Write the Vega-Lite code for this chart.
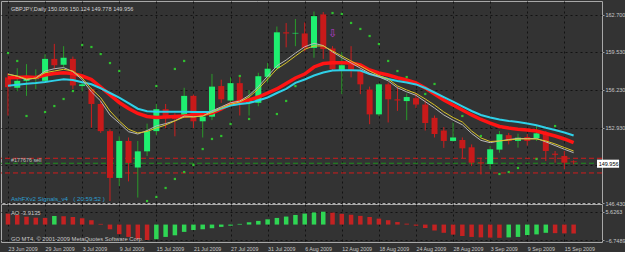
{
  "$schema": "https://vega.github.io/schema/vega-lite/v6.json",
  "padding": 0,
  "background": "#333333",
  "spacing": 1,
  "bounds": "flush",
  "config": {
    "view": {"stroke": "#a8a8a8", "strokeWidth": 1, "fill": "#333333"},
    "font": "Liberation Sans"
  },
  "resolve": {"scale": {"x": "independent", "y": "independent"}},
  "datasets": {
    "bars": [
      {"i":0,"o":157.30,"h":157.65,"l":154.00,"c":156.45,"cy":156.57,"rd":157.27,"ye":157.55,"gr":157.60,"ao":4.77,"aod":"down"},
      {"i":1,"o":156.40,"h":158.10,"l":156.10,"c":157.00,"cy":156.66,"rd":157.29,"ye":157.42,"gr":157.40,"ao":4.2,"aod":"down"},
      {"i":2,"o":157.00,"h":158.45,"l":155.70,"c":157.20,"cy":156.75,"rd":157.33,"ye":157.16,"gr":157.10,"ao":3.45,"aod":"down"},
      {"i":3,"o":157.15,"h":158.00,"l":156.30,"c":157.25,"cy":156.82,"rd":157.29,"ye":157.22,"gr":157.25,"ao":3.0,"aod":"down"},
      {"i":4,"o":157.00,"h":159.30,"l":156.80,"c":158.90,"cy":156.91,"rd":157.51,"ye":157.71,"gr":157.85,"ao":2.9,"aod":"down"},
      {"i":5,"o":158.90,"h":160.20,"l":158.00,"c":158.35,"cy":157.02,"rd":157.64,"ye":157.85,"gr":158.05,"ao":3.76,"aod":"up"},
      {"i":6,"o":158.40,"h":160.00,"l":158.20,"c":159.00,"cy":157.13,"rd":157.71,"ye":158.00,"gr":158.15,"ao":3.6,"aod":"down"},
      {"i":7,"o":158.90,"h":159.10,"l":156.30,"c":156.60,"cy":157.07,"rd":157.64,"ye":157.85,"gr":157.80,"ao":3.3,"aod":"down"},
      {"i":8,"o":156.55,"h":156.85,"l":156.10,"c":156.70,"cy":156.88,"rd":157.42,"ye":157.25,"gr":157.10,"ao":2.75,"aod":"down"},
      {"i":9,"o":156.30,"h":156.40,"l":152.95,"c":155.00,"cy":156.70,"rd":157.12,"ye":156.30,"gr":156.05,"ao":1.9,"aod":"down"},
      {"i":10,"o":155.00,"h":155.30,"l":152.50,"c":152.65,"cy":156.36,"rd":156.47,"ye":155.54,"gr":155.25,"ao":0.3,"aod":"down"},
      {"i":11,"o":152.65,"h":152.80,"l":146.60,"c":148.60,"cy":155.95,"rd":155.78,"ye":154.39,"gr":154.05,"ao":-2.06,"aod":"down"},
      {"i":12,"o":148.60,"h":152.20,"l":147.90,"c":151.80,"cy":155.54,"rd":155.13,"ye":153.53,"gr":153.35,"ao":-4.2,"aod":"down"},
      {"i":13,"o":151.80,"h":152.10,"l":148.30,"c":149.90,"cy":155.07,"rd":154.61,"ye":152.81,"gr":152.60,"ao":-5.4,"aod":"down"},
      {"i":14,"o":149.50,"h":151.80,"l":146.90,"c":150.90,"cy":154.59,"rd":154.18,"ye":152.49,"gr":152.40,"ao":-6.4,"aod":"down"},
      {"i":15,"o":150.90,"h":153.30,"l":150.50,"c":152.65,"cy":154.37,"rd":153.92,"ye":152.62,"gr":152.70,"ao":-6.7489,"aod":"down"},
      {"i":16,"o":152.65,"h":155.00,"l":152.30,"c":154.55,"cy":154.33,"rd":153.83,"ye":152.92,"gr":153.10,"ao":-6.4,"aod":"up"},
      {"i":17,"o":154.55,"h":155.00,"l":152.90,"c":153.80,"cy":154.32,"rd":153.87,"ye":153.18,"gr":153.30,"ao":-5.4,"aod":"up"},
      {"i":18,"o":154.05,"h":154.20,"l":152.20,"c":153.70,"cy":154.32,"rd":153.92,"ye":153.53,"gr":153.55,"ao":-4.7,"aod":"up"},
      {"i":19,"o":154.00,"h":156.40,"l":153.80,"c":155.70,"cy":154.32,"rd":153.96,"ye":153.87,"gr":153.95,"ao":-3.2,"aod":"up"},
      {"i":20,"o":155.70,"h":155.80,"l":152.90,"c":153.50,"cy":154.31,"rd":154.05,"ye":153.87,"gr":153.90,"ao":-2.4,"aod":"up"},
      {"i":21,"o":153.50,"h":154.00,"l":152.10,"c":153.90,"cy":154.31,"rd":154.11,"ye":153.96,"gr":153.95,"ao":-2.05,"aod":"up"},
      {"i":22,"o":153.90,"h":157.60,"l":153.60,"c":156.50,"cy":154.31,"rd":154.22,"ye":154.25,"gr":154.40,"ao":-1.6,"aod":"up"},
      {"i":23,"o":156.55,"h":157.10,"l":155.10,"c":155.40,"cy":154.60,"rd":154.57,"ye":154.65,"gr":154.75,"ao":-1.0,"aod":"up"},
      {"i":24,"o":155.30,"h":157.30,"l":154.80,"c":156.80,"cy":154.87,"rd":155.00,"ye":154.97,"gr":155.10,"ao":-0.5,"aod":"up"},
      {"i":25,"o":156.80,"h":157.40,"l":154.00,"c":155.10,"cy":155.00,"rd":155.22,"ye":155.17,"gr":155.25,"ao":0.3,"aod":"up"},
      {"i":26,"o":155.10,"h":156.20,"l":154.00,"c":155.30,"cy":155.08,"rd":155.34,"ye":155.60,"gr":155.75,"ao":1.0,"aod":"up"},
      {"i":27,"o":155.10,"h":157.70,"l":154.80,"c":157.40,"cy":155.30,"rd":155.60,"ye":156.30,"gr":156.50,"ao":1.6,"aod":"up"},
      {"i":28,"o":157.35,"h":158.55,"l":156.85,"c":158.05,"cy":155.56,"rd":155.95,"ye":157.16,"gr":157.40,"ao":2.3,"aod":"up"},
      {"i":29,"o":158.10,"h":161.70,"l":157.90,"c":161.20,"cy":155.95,"rd":156.30,"ye":158.03,"gr":158.30,"ao":2.9,"aod":"up"},
      {"i":30,"o":161.20,"h":162.00,"l":159.90,"c":161.10,"cy":156.30,"rd":156.77,"ye":158.55,"gr":158.80,"ao":3.5,"aod":"up"},
      {"i":31,"o":161.10,"h":162.35,"l":160.00,"c":161.15,"cy":156.82,"rd":157.25,"ye":159.15,"gr":159.40,"ao":4.2,"aod":"up"},
      {"i":32,"o":161.10,"h":162.05,"l":159.55,"c":159.85,"cy":157.12,"rd":157.59,"ye":159.73,"gr":159.95,"ao":4.8,"aod":"up"},
      {"i":33,"o":159.85,"h":163.00,"l":159.00,"c":162.60,"cy":157.46,"rd":158.20,"ye":160.02,"gr":160.25,"ao":5.3,"aod":"up"},
      {"i":34,"o":162.75,"h":162.95,"l":158.90,"c":159.75,"cy":157.72,"rd":158.50,"ye":160.02,"gr":160.05,"ao":5.6263,"aod":"up"},
      {"i":35,"o":159.80,"h":160.00,"l":157.85,"c":158.00,"cy":157.90,"rd":158.57,"ye":159.58,"gr":159.50,"ao":5.2,"aod":"down"},
      {"i":36,"o":157.95,"h":159.50,"l":155.85,"c":158.35,"cy":157.92,"rd":158.57,"ye":159.15,"gr":159.00,"ao":4.7,"aod":"down"},
      {"i":37,"o":158.40,"h":160.00,"l":157.30,"c":157.95,"cy":157.92,"rd":158.55,"ye":158.72,"gr":158.55,"ao":4.3,"aod":"down"},
      {"i":38,"o":157.95,"h":158.10,"l":155.85,"c":156.70,"cy":157.90,"rd":158.37,"ye":158.29,"gr":158.10,"ao":3.8,"aod":"down"},
      {"i":39,"o":156.25,"h":156.50,"l":153.25,"c":154.10,"cy":157.59,"rd":157.94,"ye":157.85,"gr":157.65,"ao":3.3,"aod":"down"},
      {"i":40,"o":154.10,"h":156.80,"l":153.95,"c":156.70,"cy":157.38,"rd":157.68,"ye":157.46,"gr":157.35,"ao":2.6,"aod":"down"},
      {"i":41,"o":156.70,"h":156.85,"l":153.40,"c":155.40,"cy":157.16,"rd":157.51,"ye":157.16,"gr":157.00,"ao":1.9,"aod":"down"},
      {"i":42,"o":155.40,"h":156.50,"l":154.40,"c":155.30,"cy":156.99,"rd":157.27,"ye":156.56,"gr":156.40,"ao":1.1,"aod":"down"},
      {"i":43,"o":155.25,"h":155.90,"l":153.60,"c":155.60,"cy":156.86,"rd":157.07,"ye":156.21,"gr":156.05,"ao":0.4,"aod":"down"},
      {"i":44,"o":155.50,"h":155.95,"l":154.65,"c":154.95,"cy":156.69,"rd":156.82,"ye":155.91,"gr":155.75,"ao":-0.5,"aod":"down"},
      {"i":45,"o":154.95,"h":155.30,"l":152.70,"c":153.35,"cy":156.38,"rd":156.38,"ye":155.43,"gr":155.20,"ao":-1.5,"aod":"down"},
      {"i":46,"o":153.80,"h":154.00,"l":152.10,"c":152.40,"cy":155.99,"rd":155.86,"ye":154.91,"gr":154.65,"ao":-2.6,"aod":"down"},
      {"i":47,"o":152.70,"h":153.00,"l":151.20,"c":151.80,"cy":155.60,"rd":155.34,"ye":154.31,"gr":154.05,"ao":-3.6,"aod":"down"},
      {"i":48,"o":151.80,"h":153.40,"l":151.75,"c":152.10,"cy":155.21,"rd":154.91,"ye":153.83,"gr":153.60,"ao":-4.4,"aod":"down"},
      {"i":49,"o":151.88,"h":152.10,"l":150.30,"c":151.16,"cy":154.80,"rd":154.48,"ye":153.44,"gr":153.20,"ao":-5.0,"aod":"down"},
      {"i":50,"o":151.25,"h":151.50,"l":149.63,"c":149.92,"cy":154.39,"rd":154.05,"ye":152.66,"gr":152.45,"ao":-5.4,"aod":"down"},
      {"i":51,"o":149.95,"h":150.35,"l":148.90,"c":149.85,"cy":154.05,"rd":153.66,"ye":152.06,"gr":151.85,"ao":-5.6,"aod":"down"},
      {"i":52,"o":149.80,"h":151.35,"l":149.35,"c":151.08,"cy":153.83,"rd":153.35,"ye":151.75,"gr":151.65,"ao":-5.7,"aod":"down"},
      {"i":53,"o":151.05,"h":152.66,"l":150.78,"c":152.38,"cy":153.66,"rd":153.05,"ye":151.80,"gr":151.80,"ao":-5.8,"aod":"down"},
      {"i":54,"o":152.30,"h":152.50,"l":151.50,"c":151.80,"cy":153.53,"rd":152.92,"ye":151.88,"gr":151.92,"ao":-5.6,"aod":"up"},
      {"i":55,"o":151.80,"h":152.43,"l":151.22,"c":152.08,"cy":153.44,"rd":152.81,"ye":151.97,"gr":152.02,"ao":-5.4,"aod":"up"},
      {"i":56,"o":152.14,"h":152.40,"l":151.40,"c":151.80,"cy":153.30,"rd":152.75,"ye":151.97,"gr":152.00,"ao":-4.6,"aod":"up"},
      {"i":57,"o":152.03,"h":153.10,"l":151.80,"c":152.46,"cy":153.16,"rd":152.66,"ye":151.97,"gr":152.02,"ao":-4.3,"aod":"up"},
      {"i":58,"o":152.46,"h":152.66,"l":150.06,"c":150.93,"cy":152.94,"rd":152.44,"ye":151.80,"gr":151.72,"ao":-3.6,"aod":"up"},
      {"i":59,"o":150.70,"h":150.93,"l":149.92,"c":150.60,"cy":152.75,"rd":152.23,"ye":151.54,"gr":151.40,"ao":-3.75,"aod":"down"},
      {"i":60,"o":150.50,"h":150.93,"l":149.35,"c":149.92,"cy":152.53,"rd":151.97,"ye":151.23,"gr":151.08,"ao":-3.85,"aod":"down"},
      {"i":61,"o":150.036,"h":150.124,"l":149.778,"c":149.956,"cy":152.27,"rd":151.65,"ye":150.93,"gr":150.78,"ao":-3.9135,"aod":"down"}
    ],
    "dots": [
      {"i":0,"p":159.41},{"i":1,"p":158.72},{"i":2,"p":153.96},{"i":4,"p":154.30},{"i":5,"p":154.82},{"i":6,"p":155.43},{"i":7,"p":156.12},
      {"i":8,"p":160.10},{"i":9,"p":159.93},{"i":10,"p":159.32},{"i":11,"p":158.54},{"i":12,"p":157.85},
      {"i":15,"p":146.60},{"i":16,"p":146.95},{"i":16,"p":156.55},{"i":17,"p":147.73},{"i":18,"p":148.51},{"i":18,"p":158.03},
      {"i":19,"p":149.11},{"i":19,"p":158.72},{"i":20,"p":149.72},{"i":21,"p":151.10},{"i":22,"p":151.97},{"i":23,"p":152.23},
      {"i":24,"p":153.27},{"i":25,"p":157.42},{"i":26,"p":153.70},{"i":29,"p":154.13},{"i":30,"p":155.26},{"i":31,"p":156.55},
      {"i":35,"p":162.87},{"i":36,"p":162.79},{"i":37,"p":162.01},{"i":38,"p":161.49},{"i":39,"p":160.88},{"i":40,"p":160.19},
      {"i":41,"p":158.72},{"i":42,"p":157.85},{"i":43,"p":157.33},{"i":45,"p":155.86},{"i":46,"p":156.73},{"i":49,"p":153.96},
      {"i":51,"p":152.23},{"i":53,"p":148.94},{"i":54,"p":149.11},{"i":55,"p":149.46},{"i":57,"p":150.24},{"i":59,"p":153.09}
    ],
    "levels": [
      {"p":150.30,"k":"sell"},
      {"p":149.03,"k":"sell"},
      {"p":149.87,"k":"bid"}
    ],
    "notes": [
      {"i":0.32,"p":163.22,"t":"GBPJPY,Daily  150.036  150.124  149.778  149.956","k":"title"},
      {"i":0.32,"p":150.13,"t":"#177676 sell","k":"sell"},
      {"i":0.32,"p":146.74,"t":"AshFXv2 Signals_v4\u00a0\u00a0\u00a0( 20:59:52 )","k":"ash"},
      {"i":35,"p":161.05,"t":"⇩","k":"arrow"},
      {"i":63.7,"p":149.83,"t":"149.956","k":"bid"}
    ],
    "box": [
      {"i":63.52,"i2":65.9,"lo":149.48,"hi":150.18}
    ],
    "aonotes": [
      {"i":0.32,"v":5.05,"t":"AO -3.9135"},
      {"i":0.32,"v":-6.25,"t":"GO MT4, © 2001-2009 MetaQuotes Software Corp."}
    ]
  },
  "vconcat": [
    {
      "width": 601,
      "height": 202,
      "data": {"name": "bars"},
      "layer": [
        {
          "data": {"name": "levels"},
          "mark": {"type": "rule", "strokeWidth": 1, "strokeDash": [5, 3]},
          "encoding": {
            "y": {"field": "p", "type": "quantitative", "title": null},
            "color": {"condition": {"test": "datum.k == 'bid'", "value": "#1f8f1f"}, "value": "#d01c1c"}
          }
        },
        {
          "mark": {"type": "rule", "strokeWidth": 1, "clip": true},
          "encoding": {
            "x": {"field": "i", "type": "quantitative", "title": null,
              "scale": {"domain": [-0.212, 63.52], "nice": false, "zero": false},
              "axis": {"values": [0,2,4,6,8,10,12,14,16,18,20,22,24,26,28,30,32,34,36,38,40,42,44,46,48,50,52,54,56,58,60,62],
                "labels": false, "ticks": false, "domain": false, "grid": true, "gridColor": "#121212", "gridDash": [2, 3], "gridOpacity": 1,
                "minExtent": 0, "maxExtent": 0, "offset": 0, "labelPadding": 0}},
            "y": {"field": "l", "type": "quantitative", "title": null,
              "scale": {"domain": [146.43, 163.91], "nice": false, "zero": false},
              "axis": {"orient": "right", "values": [146.43,148.03,149.68,151.33,152.93,154.58,156.23,157.88,159.53,161.18,162.7],
                "labelExpr": "datum.value == 149.68 ? '' : format(datum.value, '.3f')",
                "grid": true, "gridColor": "#121212", "gridDash": [2, 3], "gridOpacity": 1,
                "domain": false, "tickSize": 2, "tickColor": "#a0a0a0", "labelPadding": 1,
                "labelColor": "#c8c8c8", "labelFontSize": 5.5, "labelFont": "Liberation Sans", "labelOverlap": false, "labelFlush": false}},
            "y2": {"field": "h"},
            "color": {"condition": {"test": "datum.c >= datum.o", "value": "#2a9a2a"}, "value": "#cc1f1f"}
          }
        },
        {
          "mark": {"type": "bar", "size": 6, "clip": true},
          "encoding": {
            "x": {"field": "i", "type": "quantitative", "title": null},
            "y": {"field": "o", "type": "quantitative", "title": null},
            "y2": {"field": "c"},
            "color": {"condition": {"test": "datum.c >= datum.o", "value": "#1ef070"}, "value": "#c81a1a"}
          }
        },
        {
          "mark": {"type": "line", "clip": true, "color": "#ff1414", "strokeWidth": 3.5},
          "encoding": {
            "x": {"field": "i", "type": "quantitative", "title": null},
            "y": {"field": "rd", "type": "quantitative", "title": null}
          }
        },
        {
          "mark": {"type": "line", "clip": true, "color": "#2fd0e8", "strokeWidth": 2},
          "encoding": {
            "x": {"field": "i", "type": "quantitative", "title": null},
            "y": {"field": "cy", "type": "quantitative", "title": null}
          }
        },
        {
          "mark": {"type": "line", "clip": true, "color": "#b8b8b8", "strokeWidth": 1},
          "encoding": {
            "x": {"field": "i", "type": "quantitative", "title": null},
            "y": {"field": "gr", "type": "quantitative", "title": null}
          }
        },
        {
          "mark": {"type": "line", "clip": true, "color": "#d8c428", "strokeWidth": 1},
          "encoding": {
            "x": {"field": "i", "type": "quantitative", "title": null},
            "y": {"field": "ye", "type": "quantitative", "title": null}
          }
        },
        {
          "data": {"name": "dots"},
          "mark": {"type": "point", "shape": "square", "filled": true, "size": 5, "color": "#2fc02f", "opacity": 1, "clip": true},
          "encoding": {
            "x": {"field": "i", "type": "quantitative", "title": null},
            "y": {"field": "p", "type": "quantitative", "title": null}
          }
        },
        {
          "data": {"name": "notes"},
          "transform": [{"filter": "datum.k == 'arrow'"}],
          "mark": {"type": "text", "font": "DejaVu Sans", "fontSize": 11, "color": "#b43ccc", "align": "center", "baseline": "middle"},
          "encoding": {
            "x": {"field": "i", "type": "quantitative", "title": null},
            "y": {"field": "p", "type": "quantitative", "title": null},
            "text": {"field": "t"}
          }
        },
        {
          "data": {"name": "notes"},
          "transform": [{"filter": "datum.k == 'title'"}],
          "mark": {"type": "text", "fontSize": 5.6, "color": "#d0d0d0", "align": "left", "baseline": "middle"},
          "encoding": {
            "x": {"field": "i", "type": "quantitative", "title": null},
            "y": {"field": "p", "type": "quantitative", "title": null},
            "text": {"field": "t"}
          }
        },
        {
          "data": {"name": "notes"},
          "transform": [{"filter": "datum.k == 'sell'"}],
          "mark": {"type": "text", "fontSize": 5.4, "color": "#c0c0c0", "align": "left", "baseline": "middle"},
          "encoding": {
            "x": {"field": "i", "type": "quantitative", "title": null},
            "y": {"field": "p", "type": "quantitative", "title": null},
            "text": {"field": "t"}
          }
        },
        {
          "data": {"name": "notes"},
          "transform": [{"filter": "datum.k == 'ash'"}],
          "mark": {"type": "text", "fontSize": 6.2, "color": "#2d9fd0", "align": "left", "baseline": "middle"},
          "encoding": {
            "x": {"field": "i", "type": "quantitative", "title": null},
            "y": {"field": "p", "type": "quantitative", "title": null},
            "text": {"field": "t"}
          }
        },
        {
          "data": {"name": "box"},
          "mark": {"type": "rect", "color": "#ffffff", "opacity": 1},
          "encoding": {
            "x": {"field": "i", "type": "quantitative", "title": null},
            "x2": {"field": "i2"},
            "y": {"field": "lo", "type": "quantitative", "title": null},
            "y2": {"field": "hi"}
          }
        },
        {
          "data": {"name": "notes"},
          "transform": [{"filter": "datum.k == 'bid'"}],
          "mark": {"type": "text", "fontSize": 5.5, "color": "#000000", "align": "left", "baseline": "middle"},
          "encoding": {
            "x": {"field": "i", "type": "quantitative", "title": null},
            "y": {"field": "p", "type": "quantitative", "title": null},
            "text": {"field": "t"}
          }
        }
      ]
    },
    {
      "width": 601,
      "height": 38,
      "data": {"name": "bars"},
      "layer": [
        {
          "mark": {"type": "bar", "size": 4.5, "clip": true},
          "encoding": {
            "x": {"field": "i", "type": "quantitative", "title": null,
              "scale": {"domain": [-0.212, 63.52], "nice": false, "zero": false},
              "axis": {"values": [0,2,4,6,8,10,12,14,16,18,20,22,24,26,28,30,32,34,36,38,40,42,44,46,48,50,52,54,56,58,60,62],
                "labelExpr": "datum.value % 4 == 0 ? ['23 Jun 2009','29 Jun 2009','3 Jul 2009','9 Jul 2009','15 Jul 2009','21 Jul 2009','27 Jul 2009','31 Jul 2009','6 Aug 2009','12 Aug 2009','18 Aug 2009','24 Aug 2009','28 Aug 2009','3 Sep 2009','9 Sep 2009','15 Sep 2009'][datum.value / 4] : ''",
                "ticks": false, "domain": false, "grid": true, "gridColor": "#121212", "gridDash": [2, 3], "gridOpacity": 1,
                "labelAlign": "left", "labelBaseline": "top", "labelPadding": 4, "labelFlush": false, "labelOverlap": false, "labelBound": false,
                "labelColor": "#c8c8c8", "labelFontSize": 5.3, "labelFont": "Liberation Sans", "minExtent": 0, "offset": 0}},
            "y": {"field": "ao", "type": "quantitative", "title": null,
              "scale": {"domain": [-7.62, 8.99], "nice": false, "zero": false},
              "axis": {"orient": "right", "values": [5.6263, 0, -6.7489],
                "labelExpr": "datum.value == 0 ? '0.00' : format(datum.value, '.4f')",
                "grid": true, "gridColor": "#121212", "gridDash": [2, 3], "gridOpacity": 1,
                "domain": false, "tickSize": 2, "tickColor": "#a0a0a0", "labelPadding": 1,
                "labelColor": "#c8c8c8", "labelFontSize": 5.5, "labelFont": "Liberation Sans", "labelOverlap": false, "labelFlush": false}},
            "y2": {"datum": 0},
            "color": {"condition": {"test": "datum.aod == 'up'", "value": "#2fd654"}, "value": "#c42222"}
          }
        },
        {
          "data": {"name": "aonotes"},
          "mark": {"type": "text", "fontSize": 5.8, "color": "#c8c8c8", "align": "left", "baseline": "middle"},
          "encoding": {
            "x": {"field": "i", "type": "quantitative", "title": null},
            "y": {"field": "v", "type": "quantitative", "title": null},
            "text": {"field": "t"}
          }
        }
      ]
    }
  ]
}
